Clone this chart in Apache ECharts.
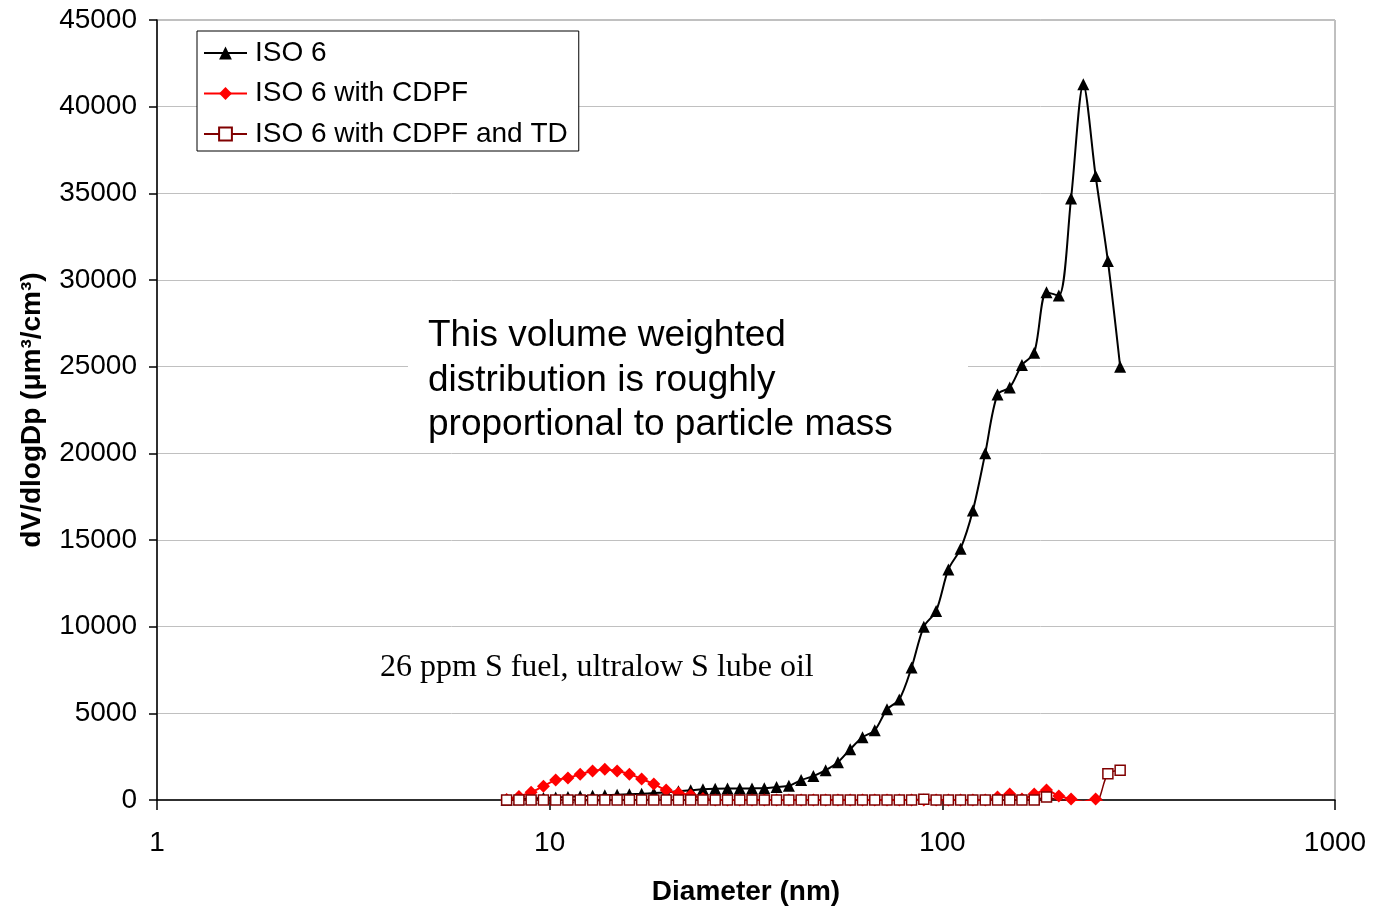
<!DOCTYPE html>
<html><head><meta charset="utf-8">
<script src="https://cdn.jsdelivr.net/npm/echarts@6/dist/echarts.min.js"></script>
<style>html,body{margin:0;padding:0;background:#fff}#c{width:1373px;height:911px}</style>
</head><body><div id="c"></div>
<script>
// Particle diameters (nm), SMPS channel midpoints
const diameters = [7.77, 8.35, 8.97, 9.64, 10.36, 11.13, 11.96, 12.86, 13.82, 14.85,
  15.96, 17.15, 18.42, 19.80, 21.28, 22.86, 24.57, 26.40, 28.37, 30.49,
  32.76, 35.21, 37.83, 40.66, 43.69, 46.95, 50.45, 54.22, 58.26, 62.61,
  67.28, 72.30, 77.69, 83.49, 89.72, 96.41, 103.6, 111.3, 119.6, 128.6,
  138.2, 148.5, 159.5, 171.4, 184.2, 198.0, 212.7, 228.6, 245.7, 264.0, 283.7];

// dV/dlogDp (um^3/cm^3)
const iso6 = [20, 50, 80, 110, 150, 180, 210, 240, 270, 300,
  330, 360, 400, 450, 500, 560, 620, 650, 660, 660,
  670, 680, 750, 820, 1150, 1380, 1720, 2180, 2930, 3620,
  4020, 5230, 5800, 7640, 10000, 10900, 13300, 14500, 16700, 20000,
  23400, 23800, 25100, 25800, 29300, 29100, 34700, 41300, 36000, 31100, 25000];

const iso6Cdpf = [30, 200, 450, 800, 1150, 1270, 1490, 1670, 1780, 1670,
  1490, 1210, 920, 570, 400, 290, 80, 0, 0, 0,
  0, 0, 0, 0, 0, 0, 0, 0, 0, 0,
  0, 0, 0, 0, 0, 0, 0, 0, 0, 0,
  170, 340, 60, 340, 570, 230, 60, -100, 60, -300, null];

const iso6CdpfTd = [0, 0, 0, 0, 0, 0, 0, 0, 0, 0,
  0, 0, 0, 0, 0, 0, 0, 0, 0, 0,
  0, 0, 0, 0, 0, 0, 0, 0, 0, 0,
  0, 0, 0, 0, 50, 0, 0, 0, 0, 0,
  0, 0, 0, 0, 170, -20, -60, -150, -150, 1510, 1720];

const seriesNames = ['ISO 6', 'ISO 6 with CDPF', 'ISO 6 with CDPF and TD'];
const xTickValues = [1, 10, 100, 1000];
const yMin = 0, yMax = 45000, yStep = 5000;

const FONT = '"Liberation Sans", Arial, sans-serif';
const pair = arr => diameters.map((d, i) => [d, arr[i]]);

const chart = echarts.init(document.getElementById('c'), null, {renderer: 'canvas'});
chart.setOption({
  animation: false,
  backgroundColor: '#fff',
  textStyle: {fontFamily: FONT},
  grid: {left: 157, right: 38, top: 20, bottom: 108, show: true,
    borderColor: '#808080', borderWidth: 1, backgroundColor: 'transparent'},
  legend: {
    left: 197, top: 31, orient: 'vertical',
    padding: [8, 11, 3, 6], itemGap: 12.5, itemWidth: 43, itemHeight: 16,
    borderColor: '#000', borderWidth: 1, backgroundColor: '#fff',
    textStyle: {fontSize: 28, fontFamily: FONT, color: '#000', lineHeight: 28, padding: [0, 0, 0, 3]},
    data: seriesNames
  },
  xAxis: {
    type: 'log', logBase: 10, min: xTickValues[0], max: xTickValues[xTickValues.length - 1],
    name: 'Diameter (nm)', nameLocation: 'middle', nameGap: 78,
    nameTextStyle: {fontSize: 28, fontWeight: 'bold', color: '#000', fontFamily: FONT},
    axisLine: {onZero: false, lineStyle: {color: '#000', width: 1.5}},
    axisTick: {show: true, length: 10, lineStyle: {color: '#000', width: 1.5}},
    minorTick: {show: false},
    splitLine: {show: false},
    axisLabel: {fontSize: 28, color: '#000', margin: 29, fontFamily: FONT,
      formatter: v => String(v)}
  },
  yAxis: {
    type: 'value', min: yMin, max: yMax, interval: yStep,
    name: 'dV/dlogDp (\u03bcm\u00b3/cm\u00b3)', nameLocation: 'middle', nameGap: 111, nameRotate: 90,
    nameTextStyle: {fontSize: 28, fontWeight: 'bold', color: '#000', fontFamily: FONT},
    axisLine: {show: true, lineStyle: {color: '#000', width: 1.5}},
    axisTick: {show: true, length: 8, lineStyle: {color: '#000', width: 1.5}},
    splitLine: {show: true, lineStyle: {color: '#c0c0c0', width: 1}},
    axisLabel: {fontSize: 28, color: '#000', margin: 20, fontFamily: FONT,
      formatter: v => String(v)}
  },
  graphic: [
    {type: 'rect', left: 408, top: 300, z: 1, shape: {width: 560, height: 150}, style: {fill: '#fff'}},
    {type: 'text', left: 428, top: 314, z: 1, style: {
      text: 'This volume weighted\ndistribution is roughly\nproportional to particle mass',
      fontSize: 37, fontFamily: FONT, lineHeight: 44.5, fill: '#000'}},
    {type: 'text', left: 380, top: 652, z: 1, style: {
      text: '26 ppm S fuel, ultralow S lube oil',
      fontSize: 32, fontFamily: '"Liberation Serif", "Times New Roman", serif', fill: '#000'}}
  ],
  series: [
    {name: seriesNames[0], type: 'line', data: pair(iso6), smooth: 0.3, clip: true,
      symbol: 'triangle', symbolSize: 12, showAllSymbol: true,
      lineStyle: {color: '#000', width: 2}, itemStyle: {color: '#000'}},
    {name: seriesNames[1], type: 'line', data: pair(iso6Cdpf), smooth: 0.3, clip: true,
      symbol: 'diamond', symbolSize: 13, showAllSymbol: true,
      lineStyle: {color: '#ff0000', width: 2}, itemStyle: {color: '#ff0000'}},
    {name: seriesNames[2], type: 'line', data: pair(iso6CdpfTd), smooth: 0.3, clip: true,
      symbol: 'rect', symbolSize: 10, showAllSymbol: true,
      lineStyle: {color: '#800000', width: 1.5},
      itemStyle: {color: '#fff', borderColor: '#800000', borderWidth: 1.5}}
  ]
});
</script></body></html>
